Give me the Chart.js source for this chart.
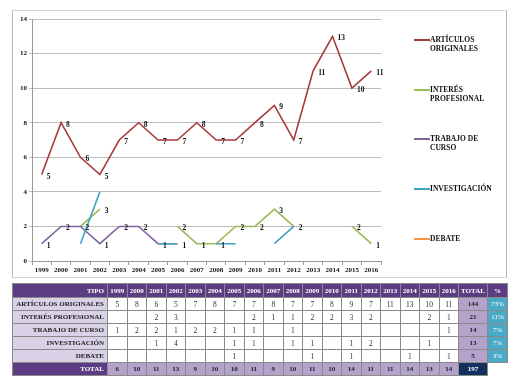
<!DOCTYPE html>
<html>
<head>
<meta charset="utf-8">
<script src="https://cdn.jsdelivr.net/npm/chart.js@4"></script>
<style>
  body { margin: 0; background: #fff; font-family: "Liberation Serif", serif; }
  #box { position: absolute; left: 12px; top: 10px; width: 493px; height: 266px;
         border: 1px solid #d4d4d4; border-left-color: #b5b5b5; border-right-color: #b5b5b5; }
  #chartWrap { position: absolute; left: 0; top: 0; width: 493px; height: 266px; }
  .leg { position: absolute; left: 414px; font-size: 7.5px; font-weight: bold; line-height: 9px; color: #111; }
  .leg i { position: absolute; left: 0; top: 4px; width: 16px; height: 2px; }
  .leg span { display: block; margin-left: 16px; }
  #tbl { position: absolute; left: 12px; top: 283px; border-collapse: collapse; table-layout: fixed;
         font-size: 7px; font-weight: bold; will-change: transform; }
  #tbl td { border: 1px solid #8a8a8a; padding: 0 1px; height: 12px; text-align: center; white-space: nowrap; overflow: hidden; }
  #tbl tr.hd td { background: #5c3d83; color: #fff; height: 13px; }
  #tbl td.lab { text-align: right; background: #d9d1e6; color: #222; padding-right: 3px; }
  #tbl tr.hd td.lab, #tbl tr.tot td.lab { background: #5c3d83; color: #fff; }
  #tbl td.val { background: #fff; font-weight: normal; color: #333; font-size: 7.5px; }
  #tbl td.sum { background: #b3a3cb; color: #222; }
  #tbl td.pct { background: #4aa9c4; color: #fff; font-weight: normal; }
  #tbl tr.tot td { background: #b3a3cb; color: #222; }
  #tbl td.grand { background: #14305e !important; color: #fff !important; }
  #tbl td.blank { background: #fff !important; border: none; }
</style>
</head>
<body>
<div id="box">
  <div id="chartWrap"><canvas id="lineChart"></canvas></div>
</div>
<div id="legend"></div>
<table id="tbl"></table>
<script>
// Data
const years = ['1999','2000','2001','2002','2003','2004','2005','2006','2007','2008','2009','2010','2011','2012','2013','2014','2015','2016'];
const articulos     = [5, 8, 6, 5, 7, 8, 7, 7, 8, 7, 7, 8, 9, 7, 11, 13, 10, 11];
const interes       = [null, null, 2, 3, null, null, null, 2, 1, 1, 2, 2, 3, 2, null, null, 2, 1];
const trabajo       = [1, 2, 2, 1, 2, 2, 1, 1, null, 1, null, null, null, null, null, null, null, 1];
const investigacion = [null, null, 1, 4, null, null, 1, 1, null, 1, 1, null, 1, 2, null, null, 1, null];
const debate        = [null, null, null, null, null, null, 1, null, null, null, 1, null, 1, null, null, 1, null, 1];
const totals        = [6, 10, 11, 13, 9, 10, 10, 11, 9, 10, 11, 10, 14, 11, 11, 14, 13, 14];
const seriesNames   = ['ARTÍCULOS ORIGINALES', 'INTERÉS PROFESIONAL', 'TRABAJO DE CURSO', 'INVESTIGACIÓN', 'DEBATE'];
const legendNames   = [['ARTÍCULOS', 'ORIGINALES'], ['INTERÉS', 'PROFESIONAL'], ['TRABAJO DE', 'CURSO'], ['INVESTIGACIÓN'], ['DEBATE']];
const rowTotals     = [144, 21, 14, 13, 5];
const grandTotal    = 197;
const percents      = ['73%', '11%', '7%', '7%', '3%'];
const yTicks        = [0, 2, 4, 6, 8, 10, 12, 14];

const seriesData = [articulos, interes, trabajo, investigacion, debate];
const colors = ['#a8393b', '#9bbb59', '#8064a2', '#3fa3c2', '#f79646'];
const withLabels = [true, true, true, false, false];

const datasets = seriesData.map(function(d, i) {
    return {
        label: seriesNames[i],
        data: d,
        borderColor: colors[i],
        backgroundColor: colors[i],
        borderWidth: 1.6,
        pointRadius: 0,
        tension: 0,
        spanGaps: false,
        order: 4 - i,
        showLabels: withLabels[i]
    };
});

// draws the value next to each point, like Excel's "right" labels
// (same value at the same spot is only written once)
const pointLabels = {
    id: 'pointLabels',
    afterDatasetsDraw: function(chart) {
        const ctx = chart.ctx;
        const done = {};
        ctx.save();
        ctx.font = 'bold 7.5px "Liberation Serif"';
        ctx.fillStyle = '#111';
        ctx.textAlign = 'left';
        ctx.textBaseline = 'middle';
        chart.data.datasets.forEach(function(ds, i) {
            if (!ds.showLabels) return;
            chart.getDatasetMeta(i).data.forEach(function(pt, j) {
                if (ds.data[j] === null) return;
                const key = j + '_' + ds.data[j];
                if (done[key]) return;
                done[key] = true;
                ctx.fillText(ds.data[j], pt.x + 5, pt.y + 2);
            });
        });
        ctx.restore();
    }
};

new Chart(document.getElementById('lineChart'), {
    type: 'line',
    data: { labels: years, datasets: datasets },
    options: {
        responsive: true,
        maintainAspectRatio: false,
        animation: false,
        layout: { padding: { left: 0, right: 125, top: 8, bottom: 0 } },
        plugins: { legend: { display: false }, tooltip: { enabled: false } },
        scales: {
            x: {
                offset: true,
                grid: { drawOnChartArea: false, offset: true, tickLength: 4, color: '#9a9a9a' },
                border: { color: '#9a9a9a' },
                ticks: { font: { family: 'Liberation Serif', size: 7, weight: 'bold' }, color: '#111', padding: 1, maxRotation: 0, autoSkip: false },
                afterFit: function(s) { s.height = 16; }
            },
            y: {
                min: 0, max: 14,
                afterBuildTicks: function(s) { s.ticks = yTicks.map(function(v) { return { value: v }; }); },
                grid: { color: '#bdbdbd', tickLength: 3 },
                border: { color: '#9a9a9a' },
                ticks: { font: { family: 'Liberation Serif', size: 7, weight: 'bold' }, color: '#111', padding: 2 },
                afterFit: function(s) { s.width = 19; }
            }
        }
    },
    plugins: [pointLabels]
});

// legend
const legendTops = [35, 85, 134, 184, 234];
const leg = document.getElementById('legend');
legendNames.forEach(function(lines, i) {
    const el = document.createElement('div');
    el.className = 'leg';
    el.style.top = legendTops[i] + 'px';
    el.innerHTML = '<i style="background:' + colors[i] + '"></i>' + lines.map(function(t) { return '<span>' + t + '</span>'; }).join('');
    leg.appendChild(el);
});

// table
const tbl = document.getElementById('tbl');
let html = '<colgroup><col style="width:95px">';
years.forEach(function() { html += '<col style="width:19.5px">'; });
html += '<col style="width:29px"><col style="width:20px"></colgroup>';
html += '<tr class="hd"><td class="lab">TIPO</td>' + years.map(function(y) { return '<td>' + y + '</td>'; }).join('') + '<td>TOTAL</td><td>%</td></tr>';
seriesData.forEach(function(d, i) {
    html += '<tr><td class="lab">' + seriesNames[i] + '</td>';
    d.forEach(function(v) { html += '<td class="val">' + (v === null ? '' : v) + '</td>'; });
    html += '<td class="sum">' + rowTotals[i] + '</td><td class="pct">' + percents[i] + '</td></tr>';
});
html += '<tr class="tot"><td class="lab">TOTAL</td>' + totals.map(function(v) { return '<td>' + v + '</td>'; }).join('') +
        '<td class="grand">' + grandTotal + '</td><td class="blank"></td></tr>';
tbl.innerHTML = html;
</script>
</body>
</html>
